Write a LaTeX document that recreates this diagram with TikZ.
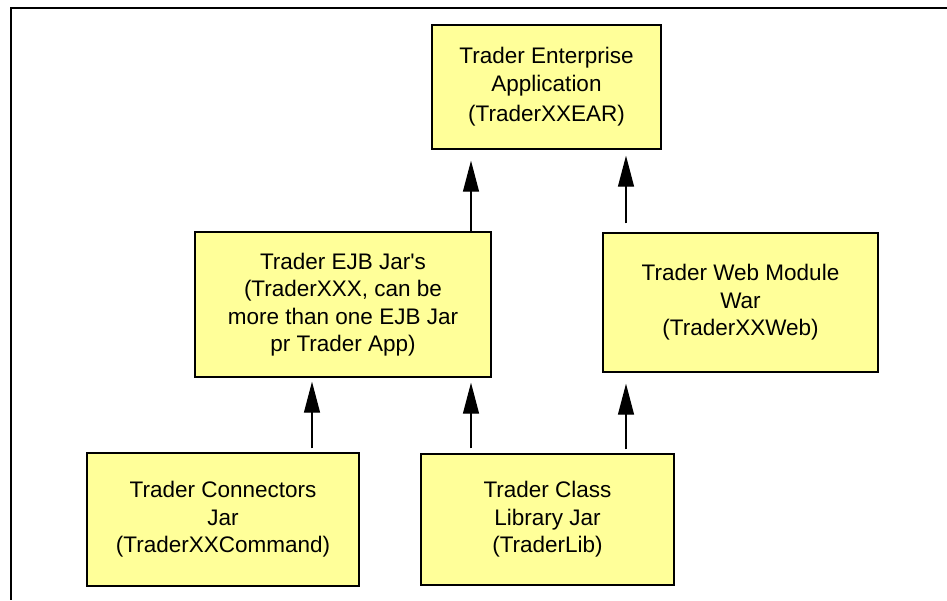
\documentclass[tikz,border=0pt]{standalone}
\usepackage{fontspec}
\setmainfont{Liberation Sans}
\usetikzlibrary{arrows.meta}
\definecolor{boxfill}{RGB}{255,255,153}
\begin{document}
\begin{tikzpicture}[x=1pt,y=-1pt,
  modbox/.style={draw=black, line width=1.4pt, fill=boxfill, inner sep=0pt,
    align=center, font=\fontsize{22.5}{27.5}\selectfont},
  dep/.style={line width=1.3pt, -{Triangle[length=31pt,width=16pt]}}]
  \useasboundingbox (0,0) rectangle (947,600);
  % outer frame
  \draw[line width=1.3pt] (947,8) -- (11,8) -- (11,600);

  % modules
  \node[modbox, minimum width=229pt, minimum height=124pt] (ear) at (546.5,87)
    {Trader Enterprise\\Application\\[3pt](TraderXXEAR)};
  \node[modbox, minimum width=296pt, minimum height=145pt] (ejb) at (343,304.5)
    {Trader EJB Jar\textquotesingle s\\(TraderXXX, can be\\more than one EJB Jar\\pr Trader App)};
  \node[modbox, minimum width=275pt, minimum height=139pt] (web) at (740.5,302.5)
    {Trader Web Module\\War\\(TraderXXWeb)};
  \node[modbox, minimum width=272pt, minimum height=133pt] (con) at (223,519.5)
    {Trader Connectors\\Jar\\(TraderXXCommand)};
  \node[modbox, minimum width=253pt, minimum height=131pt] (lib) at (547.5,519.5)
    {Trader Class\\Library Jar\\(TraderLib)};

  % columns of the dependency arrows
  \coordinate (cl) at (312,0);
  \coordinate (cm) at (471,0);
  \coordinate (cr) at (626,0);

  % dependencies
  \draw[dep, shorten >=11pt] (ejb.north -| cm) -- (ear.south -| cm);
  \draw[dep, shorten <=9pt, shorten >=6pt] (web.north -| cr) -- (ear.south -| cr);
  \draw[dep, shorten <=4pt, shorten >=4pt] (con.north -| cl) -- (ejb.south -| cl);
  \draw[dep, shorten <=5pt, shorten >=5pt] (lib.north -| cm) -- (ejb.south -| cm);
  \draw[dep, shorten <=4pt, shorten >=11pt] (lib.north -| cr) -- (web.south -| cr);
\end{tikzpicture}
\end{document}
